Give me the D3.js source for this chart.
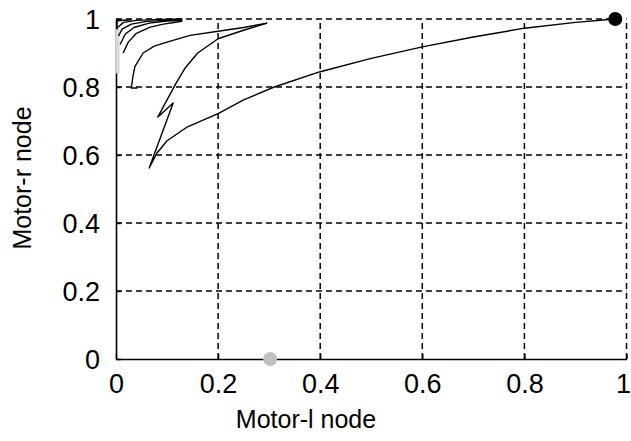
<!DOCTYPE html>
<html>
<head>
<meta charset="utf-8">
<script src="https://cdn.jsdelivr.net/npm/d3@7"></script>
<style>
  body { margin: 0; background: #fff; }
  svg { display: block; }
  text { font-family: "Liberation Sans", Arial, sans-serif; fill: #000; }
</style>
</head>
<body>
<svg id="chart" width="631" height="441"></svg>
<script>
// ticks
const x_ticks = [0, 0.2, 0.4, 0.6, 0.8, 1]
const y_ticks = [0, 0.2, 0.4, 0.6, 0.8, 1]
const x_tick_labels = ['0', '0.2', '0.4', '0.6', '0.8', '1']
const y_tick_labels = ['0', '0.2', '0.4', '0.6', '0.8', '1']

// trajectories, [motor-l, motor-r]
const traj_long = [
  [0.296, 0.988], [0.25, 0.967], [0.2, 0.942], [0.16, 0.9], [0.135, 0.855],
  [0.118, 0.812], [0.1, 0.762], [0.082, 0.712], [0.112, 0.753], [0.065, 0.562],
  [0.08, 0.605], [0.1, 0.642], [0.14, 0.683], [0.2, 0.722], [0.25, 0.762],
  [0.31, 0.8], [0.4, 0.845], [0.5, 0.884], [0.6, 0.918], [0.7, 0.947],
  [0.8, 0.973], [0.9, 0.99], [0.978, 1.0]
]
const traj_corner = [
  [0.042, 0.797], [0.03, 0.797], [0.033, 0.83], [0.037, 0.86], [0.053, 0.9],
  [0.075, 0.92], [0.1, 0.932], [0.145, 0.952], [0.2, 0.964], [0.25, 0.975],
  [0.296, 0.988]
]
const traj_inner_1 = [
  [0.014, 0.9], [0.024, 0.932], [0.04, 0.958], [0.067, 0.976],
  [0.093, 0.985], [0.12, 0.991], [0.13, 0.994]
]
const traj_inner_2 = [
  [0.008, 0.925], [0.018, 0.955], [0.035, 0.975], [0.065, 0.988],
  [0.1, 0.994], [0.13, 0.996]
]
const traj_inner_3 = [
  [0.005, 0.95], [0.012, 0.97], [0.03, 0.985], [0.06, 0.993], [0.12, 0.998]
]
const traj_inner_4 = [
  [0.003, 0.975], [0.015, 0.99], [0.04, 0.996], [0.09, 0.999], [0.13, 1.0]
]
const traj_edge = [
  [0.002, 0.97], [0.002, 0.995], [0.03, 0.998]
]
const traj_faint = [
  [0.003, 0.84], [0.003, 0.97]
]

const start_point = [0.302, 0]
const end_point = [0.978, 1]

let svg = d3.select('#chart')
let margin = {left: 116, right: 631 - 626.5, top: 19, bottom: 441 - 359}

let x = d3.scaleLinear().domain([0, 1]).range([margin.left, 631 - margin.right])
let y = d3.scaleLinear().domain([0, 1]).range([441 - margin.bottom, margin.top])

// Grid
let grid = svg.append('g')
grid.selectAll('.vgrid')
  .data(x_ticks.slice(1))
  .enter()
  .append('line')
  .attr('x1', d => x(d)).attr('x2', d => x(d))
  .attr('y1', y(0)).attr('y2', y(1))
  .style('stroke', '#000')
  .style('stroke-width', 1.5)
  .style('stroke-dasharray', '6,4')
grid.selectAll('.hgrid')
  .data(y_ticks.slice(1))
  .enter()
  .append('line')
  .attr('y1', d => y(d)).attr('y2', d => y(d))
  .attr('x1', x(0)).attr('x2', x(1))
  .style('stroke', '#000')
  .style('stroke-width', 1.5)
  .style('stroke-dasharray', '6,4')

// Axes
let x_axis = d3.axisBottom(x)
  .tickValues(x_ticks)
  .tickFormat((d, i) => x_tick_labels[i])
  .tickSizeInner(-5).tickSizeOuter(0).tickPadding(15)
let y_axis = d3.axisLeft(y)
  .tickValues(y_ticks)
  .tickFormat((d, i) => y_tick_labels[i])
  .tickSizeInner(-5).tickSizeOuter(0).tickPadding(16)

let gx = svg.append('g').attr('transform', `translate(0,${y(0)})`).call(x_axis)
let gy = svg.append('g').attr('transform', `translate(${x(0)},0)`).call(y_axis)
for (let g of [gx, gy]) {
  g.select('.domain').style('stroke', '#000').style('stroke-width', 1.6)
  g.selectAll('.tick line').style('stroke', '#000').style('stroke-width', 1.4)
  g.selectAll('.tick text')
    .style('font-family', '"Liberation Sans", Arial, sans-serif')
    .style('font-size', '27px')
    .style('fill', '#000')
}
gx.selectAll('.tick text').attr('dy', '0.71em')
gy.selectAll('.tick text').attr('dy', '0.36em')
// last x label sits against the right edge
gx.selectAll('.tick text').filter(d => d == 1)
  .attr('text-anchor', 'end')
  .attr('x', 4)

// Trajectories
let line = d3.line().x(d => x(d[0])).y(d => y(d[1]))
svg.append('path')
  .datum(traj_faint)
  .attr('d', line)
  .style('fill', 'none')
  .style('stroke', '#d8d8d8')
  .style('stroke-width', 4)

let trajs = [traj_long, traj_corner, traj_inner_1, traj_inner_2, traj_inner_3, traj_inner_4, traj_edge]
svg.selectAll('.traj')
  .data(trajs)
  .enter()
  .append('path')
  .attr('class', 'traj')
  .attr('d', d3.line().x(d => x(d[0])).y(d => y(d[1])).curve(d3.curveLinear))
  .style('fill', 'none')
  .style('stroke', '#000')
  .style('stroke-width', 1.4)
  .style('stroke-linejoin', 'round')

// Start / end markers
svg.append('circle')
  .attr('cx', x(start_point[0])).attr('cy', y(start_point[1]))
  .attr('r', 7)
  .style('fill', '#c0c0c0')
svg.append('circle')
  .attr('cx', x(end_point[0])).attr('cy', y(end_point[1]))
  .attr('r', 7)
  .style('fill', '#000')

// Axis labels
svg.append('text')
  .attr('x', 306).attr('y', 428)
  .attr('text-anchor', 'middle')
  .style('font-size', '25px')
  .text('Motor-l node')
svg.append('text')
  .attr('transform', `translate(31,${178}) rotate(-90)`)
  .attr('text-anchor', 'middle')
  .style('font-size', '25px')
  .text('Motor-r node')
</script>
</body>
</html>
